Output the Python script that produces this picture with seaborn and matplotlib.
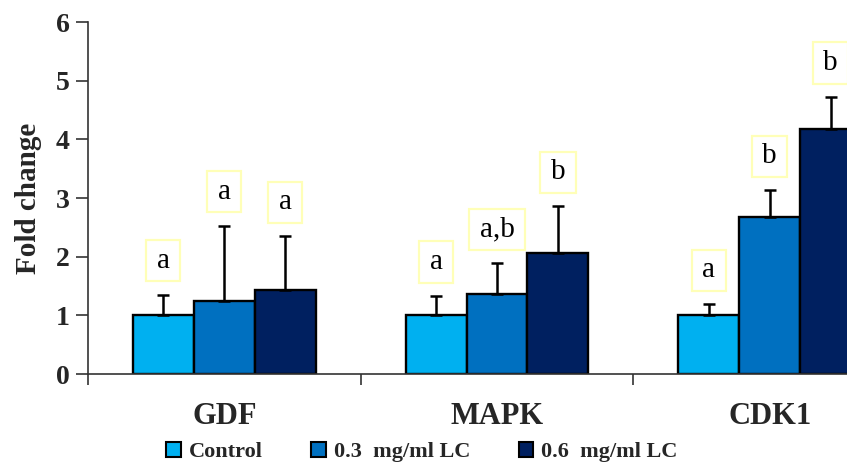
import matplotlib
matplotlib.use("Agg")
import matplotlib.pyplot as plt
import seaborn as sns
import pandas as pd
import numpy as np
from matplotlib.ticker import FixedLocator
from matplotlib.path import Path

genes = ["GDF", "MAPK", "CDK1"]
groups = ["Control", "0.3  mg/ml LC", "0.6  mg/ml LC"]
control = [1.0, 1.0, 1.0]
lc03 = [1.24, 1.37, 2.67]
lc06 = [1.43, 2.07, 4.18]
err_control = [0.35, 0.33, 0.19]
err_lc03 = [1.29, 0.52, 0.46]
err_lc06 = [0.92, 0.79, 0.54]
letters_control = ["a", "a", "a"]
letters_lc03 = ["a", "a,b", "b"]
letters_lc06 = ["a", "b", "b"]
colors = ["#00B0F0", "#0070C0", "#002060"]

values = [control, lc03, lc06]
errs = [err_control, err_lc03, err_lc06]
letters = [letters_control, letters_lc03, letters_lc06]

df = pd.DataFrame({
    "gene": genes * 3,
    "group": [g for g in groups for _ in genes],
    "value": control + lc03 + lc06,
})

sns.set_style("white")
plt.rcParams["font.family"] = ["Liberation Serif", "DejaVu Serif"]


def tall_box(x0, y0, width, height, mutation_size):
    px, py = 0.36 * mutation_size, 0.26 * mutation_size
    verts = [(x0 - px, y0 - py), (x0 + width + px, y0 - py),
             (x0 + width + px, y0 + height + py), (x0 - px, y0 + height + py),
             (x0 - px, y0 - py)]
    return Path(verts, closed=True)


fig = plt.figure(figsize=(8.47, 4.65), dpi=100)
ax = fig.add_axes([88 / 847, 1 - 374 / 465, (906 - 88) / 847, (374 - 22) / 465])

sns.barplot(data=df, x="gene", y="value", hue="group", hue_order=groups,
            order=genes, palette=colors, width=0.67, ax=ax,
            edgecolor="black", linewidth=1.7, errorbar=None, legend=True,
            saturation=1)

bar_containers = list(ax.containers)
for gi, cont in enumerate(bar_containers):
    for ci, patch in enumerate(list(cont.patches)):
        cx = patch.get_x() + patch.get_width() / 2
        h = patch.get_height()
        e = errs[gi][ci]
        ax.errorbar(cx, h, yerr=[[0], [e]], fmt="none", ecolor="black",
                    elinewidth=1.8, capsize=4.5, capthick=1.8, zorder=3)
        ax.text(cx, h + e + 0.58, letters[gi][ci], ha="center", va="center",
                fontsize=21, color="black",
                bbox=dict(boxstyle=tall_box, facecolor="white",
                          edgecolor="#FFFFB8", linewidth=1.6))

ax.set_ylim(0, 6)
ax.set_xlim(-0.5, 2.5)
ax.set_yticks(range(0, 7))
ax.set_yticklabels([str(i) for i in range(0, 7)], fontsize=20, fontweight="bold")
ax.set_xticks(range(3))
ax.set_xticklabels(genes, fontsize=22, fontweight="bold")
ax.xaxis.set_minor_locator(FixedLocator([-0.5, 0.5, 1.5]))
ax.tick_params(axis="x", which="major", length=0, pad=20)
ax.tick_params(axis="x", which="minor", length=8, width=1.2, color="#333333",
               direction="out", bottom=True)
ax.tick_params(axis="y", which="major", length=9, width=1.2, color="#333333",
               direction="out", left=True, pad=4)
ax.set_xlabel("")
ax.set_ylabel("Fold change", fontsize=21, fontweight="bold", labelpad=10)

for side in ["top", "right"]:
    ax.spines[side].set_visible(False)
for side in ["left", "bottom"]:
    ax.spines[side].set_color("#333333")
    ax.spines[side].set_linewidth(1.2)

handles, labels = ax.get_legend_handles_labels()
ax.get_legend().remove()
for h in handles:
    h.set_edgecolor("black")
    h.set_linewidth(1.5)
leg = fig.legend(handles, labels, loc="center", bbox_to_anchor=(422 / 847, 1 - 452 / 465),
                 ncol=3, frameon=False, handlelength=0.65, handleheight=0.65,
                 handletextpad=0.35, columnspacing=2.2,
                 prop={"family": ["Liberation Serif"], "weight": "bold", "size": 16})

fig.savefig("out.png", dpi=100)
